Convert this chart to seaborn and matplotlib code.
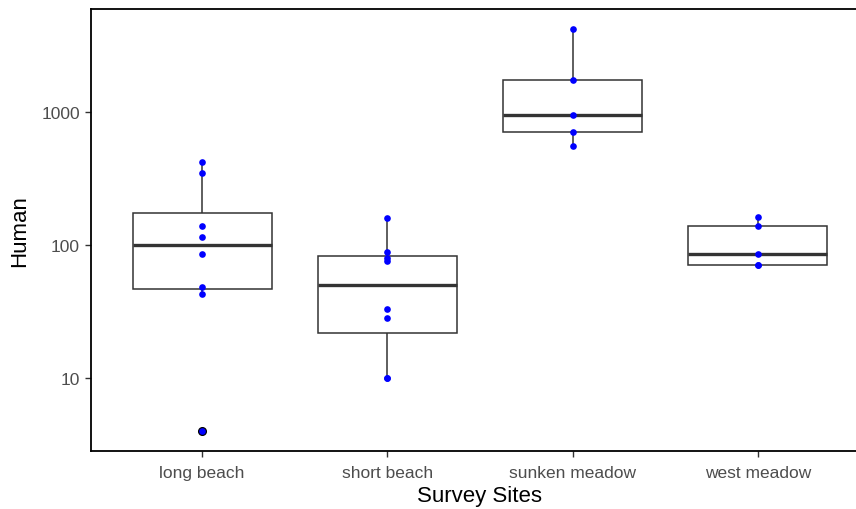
import numpy as np
import pandas as pd
import seaborn as sns
import matplotlib
matplotlib.use("Agg")
import matplotlib.pyplot as plt
from matplotlib.ticker import FixedLocator, NullLocator

sites = ["long beach", "short beach", "sunken meadow", "west meadow"]
long_beach = [4, 43, 48, 86, 115, 139, 350, 423]
short_beach = [10, 10, 28, 33, 76, 80, 88, 159]
sunken_meadow = [552, 703, 945, 1730, 4190]
west_meadow = [71, 71, 86, 138, 163]
y_ticks = [10, 100, 1000]

df = pd.DataFrame({
    "site": sum([[s] * len(v) for s, v in zip(sites, [long_beach, short_beach, sunken_meadow, west_meadow])], []),
    "Human": long_beach + short_beach + sunken_meadow + west_meadow,
})

sns.set_style("white")
plt.rcParams["font.family"] = ["Liberation Sans", "DejaVu Sans"]

fig = plt.figure(figsize=(8.56, 5.10), dpi=100)
ax = fig.add_axes([91 / 856, 58 / 510, (869 - 91) / 856, 442 / 510])

line_col = "#333333"
sns.boxplot(data=df, x="site", y="Human", order=sites, log_scale=True, ax=ax,
            width=0.75, color="white", linecolor=line_col, linewidth=1.1,
            medianprops={"linewidth": 2.4, "color": line_col},
            capprops={"visible": False},
            flierprops={"marker": "o", "markerfacecolor": "black",
                        "markeredgecolor": "black", "markersize": 5.5})
sns.stripplot(data=df, x="site", y="Human", order=sites, jitter=False,
              color="blue", size=4.8, ax=ax, zorder=5)

# log-scale limits with ggplot-like 5% expansion
lo, hi = np.log10(min(df["Human"])), np.log10(max(df["Human"]))
pad = 0.05 * (hi - lo)
ax.set_ylim(10 ** (lo - pad), 10 ** (hi + pad))
ax.set_xlim(-0.6, 3.6)

ax.yaxis.set_major_locator(FixedLocator(y_ticks))
ax.yaxis.set_minor_locator(NullLocator())
ax.set_yticklabels([str(t) for t in y_ticks])

ax.tick_params(axis="both", direction="out", length=4, width=1, color=line_col,
               labelsize=12.5, labelcolor="#4D4D4D", pad=4)
ax.tick_params(axis="x", pad=6)
ax.tick_params(left=True, bottom=True)
for sp in ax.spines.values():
    sp.set_color("black")
    sp.set_linewidth(1.3)

ax.set_xlabel("Survey Sites", fontsize=16, color="black", labelpad=4)
ax.set_ylabel("Human", fontsize=16, color="black", labelpad=8)

fig.savefig("out.png", dpi=100)
